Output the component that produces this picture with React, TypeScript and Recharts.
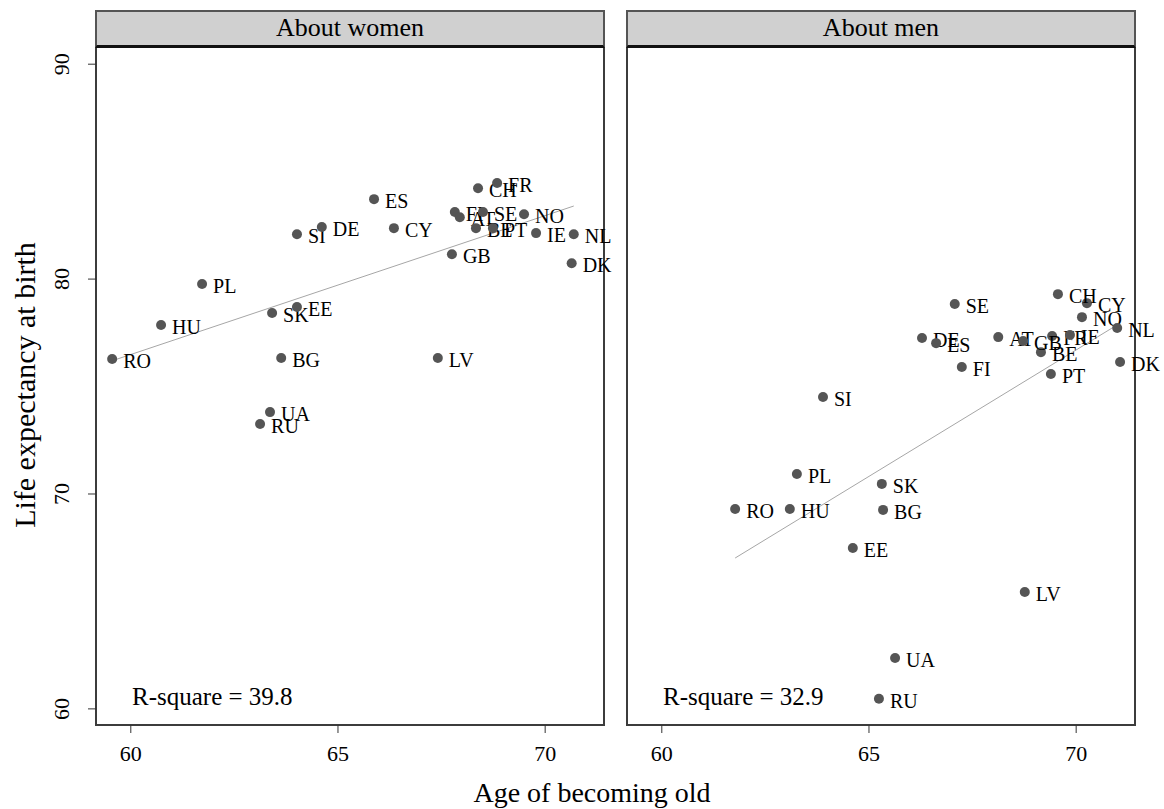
import { ScatterChart, Scatter, XAxis, YAxis } from 'recharts'

const SERIF = '"Liberation Serif", "Times New Roman", serif'

const countries = ['RO', 'HU', 'PL', 'SK', 'EE', 'BG', 'UA', 'RU', 'SI', 'DE', 'ES', 'CY', 'CH', 'FR', 'FI', 'AT', 'SE', 'BE', 'PT', 'NO', 'IE', 'NL', 'DK', 'GB', 'LV']

// age at which people are considered old, per country
const womenAge = [59.55, 60.73, 61.72, 63.41, 64.01, 63.63, 63.36, 63.12, 64.01, 64.61, 65.87, 66.35, 68.38, 68.84, 67.82, 67.94, 68.5, 68.33, 68.74, 69.49, 69.78, 70.69, 70.64, 67.75, 67.41]
const womenLife = [76.28, 77.86, 79.77, 78.42, 78.7, 76.33, 73.81, 73.26, 82.09, 82.42, 83.72, 82.37, 84.23, 84.47, 83.12, 82.88, 83.12, 82.37, 82.37, 83.02, 82.14, 82.09, 80.74, 81.16, 76.33]
const menAge = [61.77, 63.09, 63.26, 65.31, 64.61, 65.34, 65.63, 65.24, 63.89, 66.28, 66.62, 70.26, 69.56, 69.42, 67.24, 68.12, 67.07, 69.15, 69.39, 70.14, 69.85, 70.99, 71.06, 68.72, 68.76]
const menLife = [69.3, 69.3, 70.93, 70.47, 67.49, 69.26, 62.37, 60.47, 74.51, 77.26, 77.02, 78.88, 79.3, 77.35, 75.91, 77.3, 78.84, 76.6, 75.58, 78.23, 77.4, 77.72, 76.14, 77.12, 65.44]

// fitted line end points
const womenFitX = [59.55, 70.69]
const womenFitY = [76.2, 83.4]
const menFitX = [61.77, 71.06]
const menFitY = [67.02, 77.95]

const xTicks = [60, 65, 70]
const yTicks = [60, 70, 80, 90]
const xDomain = [59.16, 71.42]
const yDomain = [59.25, 90.8]

function Marker(props: any) {
  const { cx, cy, payload } = props
  return (
    <g>
      <circle cx={cx} cy={cy} r={5} fill="#555" />
      <text x={cx + 11} y={cy + 9} fontSize={20} fontFamily={SERIF} fill="#000">
        {payload.code}
      </text>
    </g>
  )
}

function YTick(props: any) {
  const { x, y, payload } = props
  const tx = x - 17
  return (
    <text
      x={tx}
      y={y}
      transform={`rotate(-90, ${tx}, ${y})`}
      textAnchor="middle"
      fontSize={22}
      fontFamily={SERIF}
      fill="#000"
    >
      {payload.value}
    </text>
  )
}

interface PanelProps {
  title: string
  rsq: string
  age: number[]
  life: number[]
  fitX: number[]
  fitY: number[]
  left: number
  width: number
  margin: { top: number; right: number; bottom: number; left: number }
  showY: boolean
  plotLeft: number
}

function Panel({ title, rsq, age, life, fitX, fitY, left, width, margin, showY, plotLeft }: PanelProps) {
  const points = countries.map((code, i) => ({ code, age: age[i], life: life[i] }))
  const fit = fitX.map((x, i) => ({ age: x, life: fitY[i] }))
  return (
    <>
      <div
        style={{
          position: 'absolute',
          left: plotLeft - 1,
          top: 46,
          width: 510,
          height: 680,
          border: '2px solid #3c3c3c',
          boxSizing: 'border-box',
          pointerEvents: 'none',
        }}
      />
      <div style={{ position: 'absolute', left, top: 0 }}>
        <ScatterChart width={width} height={809} margin={margin}>
          <XAxis
            type="number"
            dataKey="age"
            domain={xDomain}
            ticks={xTicks}
            axisLine={false}
            tickSize={8}
            tickMargin={12}
            height={40}
            tickLine={{ stroke: '#333' }}
            tick={{ fontSize: 22, fill: '#000', fontFamily: SERIF }}
          />
          <YAxis
            type="number"
            dataKey="life"
            domain={yDomain}
            ticks={yTicks}
            hide={!showY}
            width={40}
            axisLine={false}
            tickSize={8}
            tickLine={{ stroke: '#333' }}
            tick={<YTick />}
          />
          <Scatter
            data={fit}
            line={{ stroke: '#a6a6a6', strokeWidth: 1 }}
            lineType="joint"
            shape={() => <g />}
            isAnimationActive={false}
          />
          <Scatter data={points} shape={<Marker />} isAnimationActive={false} />
        </ScatterChart>
      </div>
      <div
        style={{
          position: 'absolute',
          left: plotLeft - 1,
          top: 10,
          width: 510,
          height: 38,
          background: '#d0d0d0',
          border: '2px solid #555',
          borderBottom: '3px solid #111',
          boxSizing: 'border-box',
          textAlign: 'center',
          fontSize: 26,
          lineHeight: '32px',
          fontFamily: SERIF,
        }}
      >
        {title}
      </div>
      <div
        style={{
          position: 'absolute',
          left: plotLeft + 36,
          top: 683,
          fontSize: 25,
          lineHeight: '28px',
          fontFamily: SERIF,
          whiteSpace: 'nowrap',
        }}
      >
        {rsq}
      </div>
    </>
  )
}

export default function App() {
  return (
    <div
      style={{
        position: 'absolute',
        left: 0,
        top: 0,
        width: 1164,
        height: 809,
        background: '#fff',
        overflow: 'hidden',
        fontFamily: SERIF,
      }}
    >
      <Panel
        title="About women"
        rsq="R-square = 39.8"
        age={womenAge}
        life={womenLife}
        fitX={womenFitX}
        fitY={womenFitY}
        left={0}
        width={640}
        margin={{ top: 47, right: 36, bottom: 44, left: 56 }}
        showY
        plotLeft={96}
      />
      <Panel
        title="About men"
        rsq="R-square = 32.9"
        age={menAge}
        life={menLife}
        fitX={menFitX}
        fitY={menFitY}
        left={610}
        width={554}
        margin={{ top: 47, right: 29, bottom: 44, left: 17 }}
        showY={false}
        plotLeft={627}
      />
      <div
        style={{
          position: 'absolute',
          left: 592,
          top: 793,
          transform: 'translate(-50%, -50%)',
          fontSize: 28,
          whiteSpace: 'nowrap',
        }}
      >
        Age of becoming old
      </div>
      <div
        style={{
          position: 'absolute',
          left: 25,
          top: 385,
          transform: 'translate(-50%, -50%) rotate(-90deg)',
          fontSize: 30,
          whiteSpace: 'nowrap',
        }}
      >
        Life expectancy at birth
      </div>
    </div>
  )
}
